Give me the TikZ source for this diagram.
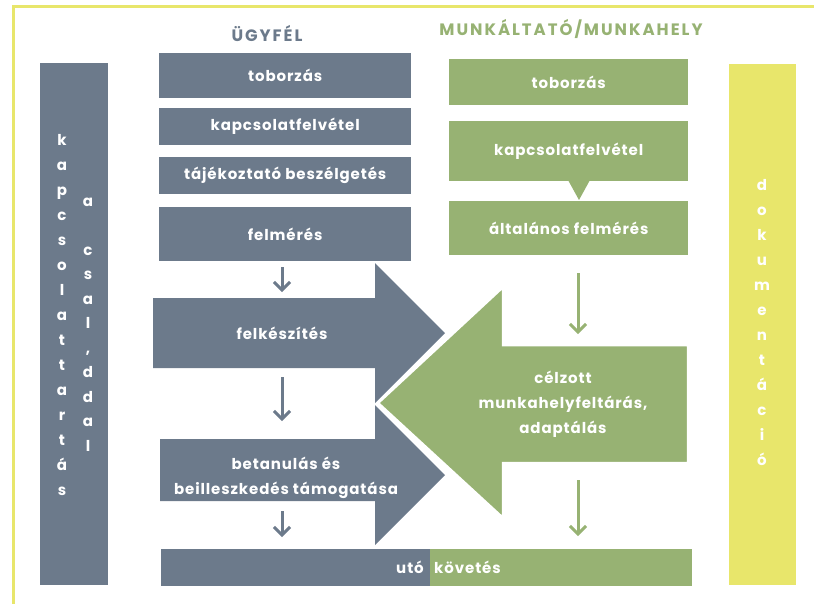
\documentclass[tikz,border=0pt]{standalone}
\usepackage{fontspec}
\setmainfont{Poppins}[LetterSpace=6]
\newfontfamily\headfont{Poppins}[LetterSpace=12]
\usetikzlibrary{arrows.meta}
\definecolor{grayc}{HTML}{6C7A8B}
\definecolor{greenc}{HTML}{97B273}
\definecolor{yellowc}{HTML}{E8E66B}
\begin{document}
\begin{tikzpicture}[x=1pt,y=-1pt,
  lbl/.style={inner sep=0pt, text=white, font=\bfseries\fontsize{15}{25}\selectfont, align=center},
  gbox/.style={lbl, fill=grayc, anchor=north west},
  nbox/.style={lbl, fill=greenc, anchor=north west},
  head/.style={inner sep=0pt, font=\headfont\bfseries\fontsize{16.5}{18}\selectfont},
  gflow/.style={draw=grayc, line width=3pt, -{Straight Barb[length=8pt,width=16pt]}},
  nflow/.style={draw=greenc, line width=3pt, -{Straight Barb[length=8pt,width=16pt]}},
  vtext/.style={inner sep=0pt, text=white, font=\bfseries\fontsize{15}{25}\selectfont, align=center}
]
\useasboundingbox (0,0) rectangle (814,603);
% yellow frame
\draw[yellowc, line width=3pt] (816,6) -- (13.5,6) -- (13.5,605);

% headers
\node[head, text=grayc] (h1) at (267,33.5) {ÜGYFÉL};
\node[head, text=greenc] (h2) at (571,28.5) {MUNKÁLTATÓ/MUNKAHELY};

% side bars
\node[fill=grayc, anchor=north west, minimum width=68pt, minimum height=522pt, inner sep=0pt] (lbar) at (40,63) {};
\node[vtext] (lcol1) at (62,315) {k\\a\\p\\c\\s\\o\\l\\a\\t\\t\\a\\r\\t\\á\\s};
\node[vtext, font=\bfseries\fontsize{15}{24.5}\selectfont] (lcol2) at (88,324.5) {a\\\mbox{}\\c\\s\\a\\l\\,\\d\\d\\a\\l};
\node[fill=yellowc, anchor=north west, minimum width=67pt, minimum height=521pt, inner sep=0pt] (rbar) at (729,64) {};
\node[vtext] (rcol) at (762,322.5) {d\\o\\k\\u\\m\\e\\n\\t\\á\\c\\i\\ó};

% gray boxes
\node[gbox, minimum width=252pt, minimum height=45pt] (g1) at (159,53) {toborzás};
\node[gbox, minimum width=252pt, minimum height=37pt] (g2) at (159,108) {kapcsolatfelvétel};
\node[gbox, minimum width=252pt, minimum height=37pt] (g3) at (159,157) {tájékoztató beszélgetés};
\node[gbox, minimum width=252pt, minimum height=54pt] (g4) at (159,207) {felmérés};

% green boxes
\node[nbox, minimum width=239pt, minimum height=46pt] (n1) at (449,59) {toborzás};
\node[nbox, minimum width=239pt, minimum height=60pt] (n2) at (449,121) {kapcsolatfelvétel};
\node[nbox, minimum width=239pt, minimum height=54pt] (n3) at (449,201) {általános felmérés};
\fill[greenc] (568,180) -- (590,180) -- (579,200) -- cycle;

% gray big arrows
\fill[grayc] (153,298) -- (375,298) -- (375,263) -- (445,333) -- (375,403) -- (375,368) -- (153,368) -- cycle;
\node[lbl] (felk) at (282,333) {felkészítés};
\fill[grayc] (160,439) -- (375,439) -- (375,405) -- (445,475) -- (375,545) -- (375,501) -- (160,501) -- cycle;
\node[lbl] (betan) at (286,477.5) {betanulás és\\beilleszkedés támogatása};

% green big arrow
\filldraw[fill=greenc, draw=white, line width=2.5pt, line join=miter] (688,345) -- (503,345) -- (503,287) -- (378,403) -- (503,518) -- (503,463) -- (688,463) -- cycle;
\node[lbl] (celz) at (563,404) {célzott\\munkahelyfeltárás,\\adaptálás};

% bottom bar
\node[fill=grayc, anchor=north west, minimum width=269pt, minimum height=37pt, inner sep=0pt] (ubar) at (161,549) {};
\node[fill=greenc, anchor=north west, minimum width=262pt, minimum height=37pt, inner sep=0pt] (kbar) at (430,549) {};
\node[lbl, anchor=east] (uto) at (424,567.5) {utó};
\node[lbl, anchor=west] (kov) at (434,567.5) {követés};

% small arrows
\coordinate (ga1) at (282,267);
\coordinate (ga2) at (282,292);
\coordinate (gb1) at (282,377);
\coordinate (gb2) at (282,421);
\coordinate (gc1) at (282,511);
\coordinate (gc2) at (282,537);
\draw[gflow] (ga1) -- (ga2);
\draw[gflow] (gb1) -- (gb2);
\draw[gflow] (gc1) -- (gc2);
\coordinate (na1) at (578,273);
\coordinate (na2) at (578,334);
\coordinate (nb1) at (578,480);
\coordinate (nb2) at (578,536);
\draw[nflow] (na1) -- (na2);
\draw[nflow] (nb1) -- (nb2);
\end{tikzpicture}
\end{document}
